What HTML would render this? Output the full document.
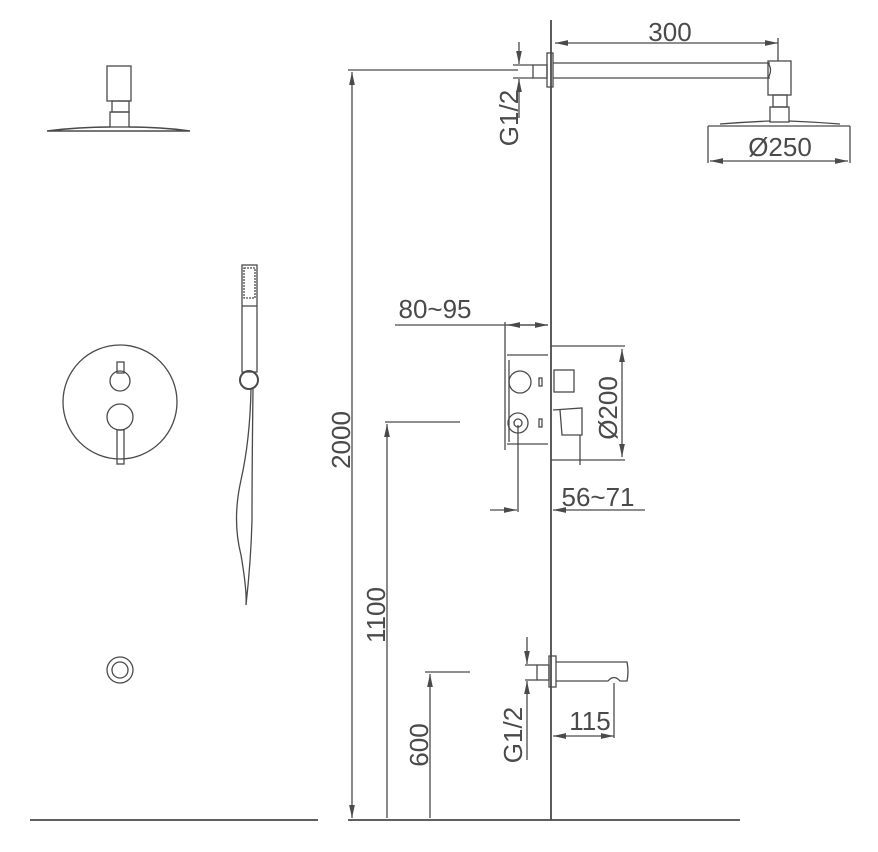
<!DOCTYPE html>
<html><head><style>body{margin:0;background:#fff}svg{display:block}</style></head><body>
<svg width="878" height="852" viewBox="0 0 878 852" xmlns="http://www.w3.org/2000/svg" font-family="Liberation Sans, sans-serif" fill="none" stroke="#4a4a4a" stroke-width="1.3">
<defs><marker id="a" viewBox="0 0 10 6" refX="10" refY="3" markerWidth="10" markerHeight="6" orient="auto-start-reverse"><path d="M0,0.8 L10,3 L0,5.2" fill="#4a4a4a" stroke="none"/></marker></defs>
<line x1="30" y1="820" x2="318" y2="820" stroke-width="1.8"/>
<line x1="348" y1="820" x2="740" y2="820" stroke-width="1.8"/>
<line x1="551" y1="20" x2="551" y2="820" stroke-width="1.8"/>
<line x1="348" y1="70" x2="518" y2="70"/>
<line x1="352" y1="72" x2="352" y2="818" marker-start="url(#a)" marker-end="url(#a)"/>
<text transform="translate(350,440) rotate(-90)" fill="#4a4a4a" stroke="none" font-size="26" text-anchor="middle">2000</text>
<line x1="385" y1="422" x2="460" y2="422"/>
<line x1="387" y1="424" x2="387" y2="818" marker-start="url(#a)"/>
<text transform="translate(385,615) rotate(-90)" fill="#4a4a4a" stroke="none" font-size="26" text-anchor="middle">1100</text>
<line x1="425" y1="672" x2="470" y2="672"/>
<line x1="430" y1="674" x2="430" y2="818" marker-start="url(#a)"/>
<text transform="translate(428,745) rotate(-90)" fill="#4a4a4a" stroke="none" font-size="26" text-anchor="middle">600</text>
<rect x="547" y="53" width="6" height="34"/>
<rect x="533" y="65" width="14" height="13"/>
<line x1="513" y1="65" x2="533" y2="65"/><line x1="513" y1="78" x2="533" y2="78"/>
<line x1="519" y1="42" x2="519" y2="64" marker-end="url(#a)"/>
<line x1="519" y1="79" x2="519" y2="118" marker-start="url(#a)"/>
<text transform="translate(518,118) rotate(-90)" fill="#4a4a4a" stroke="none" font-size="26" text-anchor="middle">G1/2</text>
<line x1="553" y1="63" x2="770" y2="63"/><line x1="553" y1="78" x2="770" y2="78"/>
<path d="M768,63 Q773,70 768,78"/>
<rect x="768" y="61" width="23" height="34"/>
<rect x="773" y="95" width="14" height="12"/>
<rect x="770" y="107" width="19" height="15"/>
<path d="M708,126 L850,126 M720,124 Q745,122 770,121 M789,121 Q815,122 840,124"/>
<line x1="555" y1="43" x2="778" y2="43" marker-start="url(#a)" marker-end="url(#a)"/>
<line x1="778" y1="38" x2="778" y2="61"/>
<text x="670" y="41" fill="#4a4a4a" stroke="none" font-size="26" text-anchor="middle">300</text>
<line x1="708" y1="126" x2="708" y2="163"/><line x1="850" y1="126" x2="850" y2="163"/>
<line x1="710" y1="161" x2="848" y2="161" marker-start="url(#a)" marker-end="url(#a)"/>
<text x="780" y="156" fill="#4a4a4a" stroke="none" font-size="26" text-anchor="middle">Ø250</text>
<line x1="395" y1="325" x2="548" y2="325"/>
<line x1="507" y1="325" x2="548" y2="325" marker-start="url(#a)" marker-end="url(#a)"/>
<line x1="505" y1="322" x2="505" y2="450"/>
<text x="435" y="318" fill="#4a4a4a" stroke="none" font-size="26" text-anchor="middle">80~95</text>
<line x1="507" y1="355" x2="548" y2="355"/><line x1="507" y1="444" x2="548" y2="444"/>
<line x1="509" y1="360" x2="509" y2="442"/>
<circle cx="520" cy="382" r="11"/>
<circle cx="518" cy="423" r="10"/><circle cx="518" cy="423" r="4"/>
<rect x="539" y="378" width="3" height="8"/><rect x="539" y="419" width="3" height="8"/>
<path d="M551,346 L625,346 M551,460 L625,460"/>
<rect x="554" y="370" width="20" height="22"/>
<path d="M553,410 L582,408 L582,435 L562,435 L560,410"/>
<path d="M580,435 L580,465"/>
<line x1="622" y1="349" x2="622" y2="457" marker-start="url(#a)" marker-end="url(#a)"/>
<text transform="translate(617,408) rotate(-90)" fill="#4a4a4a" stroke="none" font-size="26" text-anchor="middle">Ø200</text>
<line x1="518" y1="425" x2="518" y2="512"/>
<line x1="490" y1="510" x2="517" y2="510" marker-end="url(#a)"/>
<line x1="553" y1="510" x2="645" y2="510" marker-start="url(#a)"/>
<text x="598" y="506" fill="#4a4a4a" stroke="none" font-size="26" text-anchor="middle">56~71</text>
<rect x="549" y="656" width="7" height="31"/>
<rect x="537" y="665" width="12" height="15"/>
<line x1="525" y1="665" x2="537" y2="665"/><line x1="525" y1="680" x2="537" y2="680"/>
<line x1="527" y1="637" x2="527" y2="664" marker-end="url(#a)"/>
<line x1="527" y1="681" x2="527" y2="760" marker-start="url(#a)"/>
<text transform="translate(522,735) rotate(-90)" fill="#4a4a4a" stroke="none" font-size="26" text-anchor="middle">G1/2</text>
<path d="M556,662 L627,662 Q629,672 627,681 L620,681 Q614,674 608,681 L556,681"/>
<line x1="614" y1="683" x2="614" y2="738"/>
<line x1="553" y1="736" x2="614" y2="736" marker-start="url(#a)" marker-end="url(#a)"/>
<text x="590" y="730" fill="#4a4a4a" stroke="none" font-size="26" text-anchor="middle">115</text>
<rect x="107" y="66" width="24" height="35"/>
<rect x="112" y="101" width="17" height="11"/>
<rect x="110" y="112" width="19" height="15"/>
<path d="M47,131 L190,131 M47,131 Q80,127 110,127 M129,127 Q160,127 190,131" stroke-width="1.6"/>
<circle cx="120" cy="402" r="57"/>
<rect x="117" y="362" width="7" height="11"/>
<circle cx="120" cy="381" r="10"/>
<circle cx="120" cy="417" r="13"/>
<rect x="117" y="430" width="7" height="34"/>
<rect x="242" y="265" width="15" height="107"/>
<rect x="244" y="268" width="11" height="30" stroke-dasharray="2 1"/>
<line x1="242" y1="306" x2="257" y2="306"/>
<circle cx="249" cy="380" r="9" stroke-width="2"/>
<path d="M251,389 Q250,440 241,480 Q232,520 241,555 Q247,590 246,605 Q251,560 252,520 Q252,470 253,389"/>
<circle cx="120" cy="670" r="13"/><circle cx="120" cy="670" r="8"/>
</svg>
</body></html>
